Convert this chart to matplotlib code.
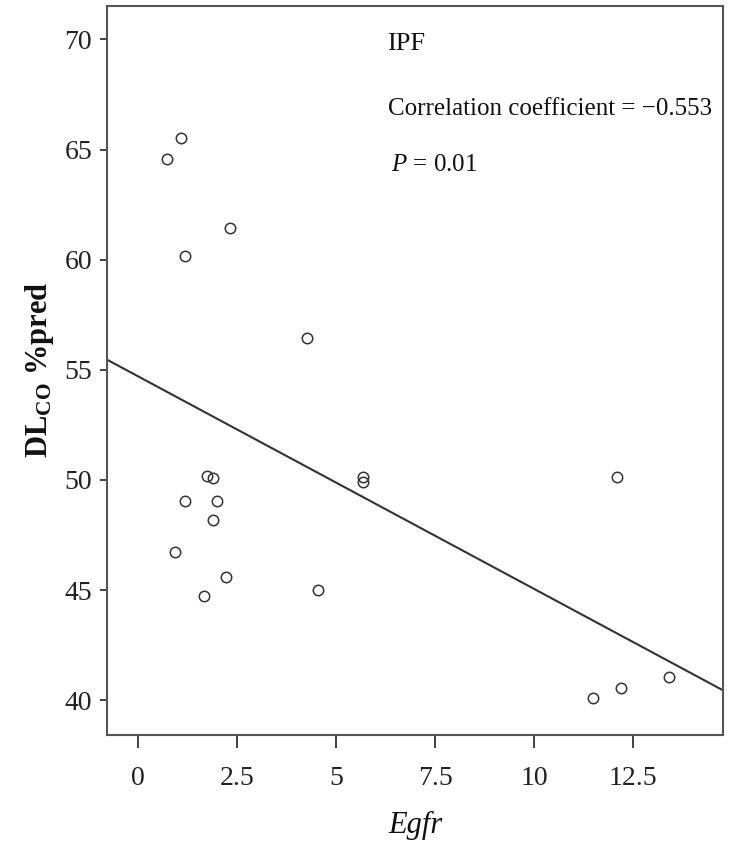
import numpy as np
from matplotlib import pyplot as plt

# egfr expression vs DLco %pred
egfr = [1.08, 0.73, 2.33, 1.18, 4.26, 1.75, 1.89, 1.19, 1.99, 1.89,
        0.94, 2.22, 1.67, 4.55, 5.67, 5.67, 12.08, 11.49, 12.20, 13.39]
dlco = [65.53, 64.55, 61.45, 60.18, 56.45, 50.20, 50.09, 49.03, 49.03, 48.18,
        46.71, 45.60, 44.74, 45.00, 50.15, 49.92, 50.12, 40.12, 40.57, 41.06]

# fitted line
intercept = 54.71
slope = -0.966

xticks = [0, 2.5, 5, 7.5, 10, 12.5]
xtick_labels = ['0', '2.5', '5', '7.5', '10', '12.5']
yticks = [40, 45, 50, 55, 60, 65, 70]

plt.rcParams['font.family'] = ['Liberation Serif', 'DejaVu Serif']
plt.rcParams['mathtext.fontset'] = 'custom'
plt.rcParams['mathtext.rm'] = 'Liberation Serif'
plt.rcParams['mathtext.it'] = 'Liberation Serif:italic'
plt.rcParams['mathtext.bf'] = 'Liberation Serif:bold'

dark = '#333333'

fig = plt.figure(figsize=(7.41, 8.64), dpi=100)
ax = fig.add_axes([0.1448, 0.1493, 0.8313, 0.8441])

xlim = (-0.77, 14.77)
ax.set_xlim(xlim)
ax.set_ylim(38.42, 71.53)

# regression line across the whole axis
lx = np.array(xlim)
ax.plot(lx, intercept + slope * lx, color=dark, lw=1.5, zorder=2)

ax.plot(egfr, dlco, 'o', ms=7.5, mfc='none', mec=dark, mew=1.1, zorder=3)

ax.set_xticks(xticks)
ax.set_xticklabels(xtick_labels)
ax.set_yticks(yticks)

ax.tick_params(axis='x', direction='out', length=9.5, width=1.2, pad=13,
               labelsize=20, colors='#222222')
ax.tick_params(axis='y', direction='out', length=5, width=1.2, pad=6,
               labelsize=20, colors='#222222')

for s in ax.spines.values():
    s.set_color('#555555')
    s.set_linewidth(1.5)

ax.set_xlabel('Egfr', fontsize=22, style='italic', labelpad=14, color='#111111')
ax.set_ylabel(r'DL$_{\mathbf{CO}}$ %pred', fontsize=22, fontweight='bold',
              labelpad=6, color='#111111')

ax.text(0.455, 0.947, 'IPF', transform=ax.transAxes, fontsize=19,
        ha='left', va='center', color='#111111')
ax.text(0.455, 0.858, 'Correlation coefficient = \u22120.553', transform=ax.transAxes,
        fontsize=18, ha='left', va='center', color='#111111')
ax.text(0.46, 0.782, r'$P$ = 0.01', transform=ax.transAxes,
        fontsize=18, ha='left', va='center', color='#111111')

plt.savefig('out.png', dpi=100)
